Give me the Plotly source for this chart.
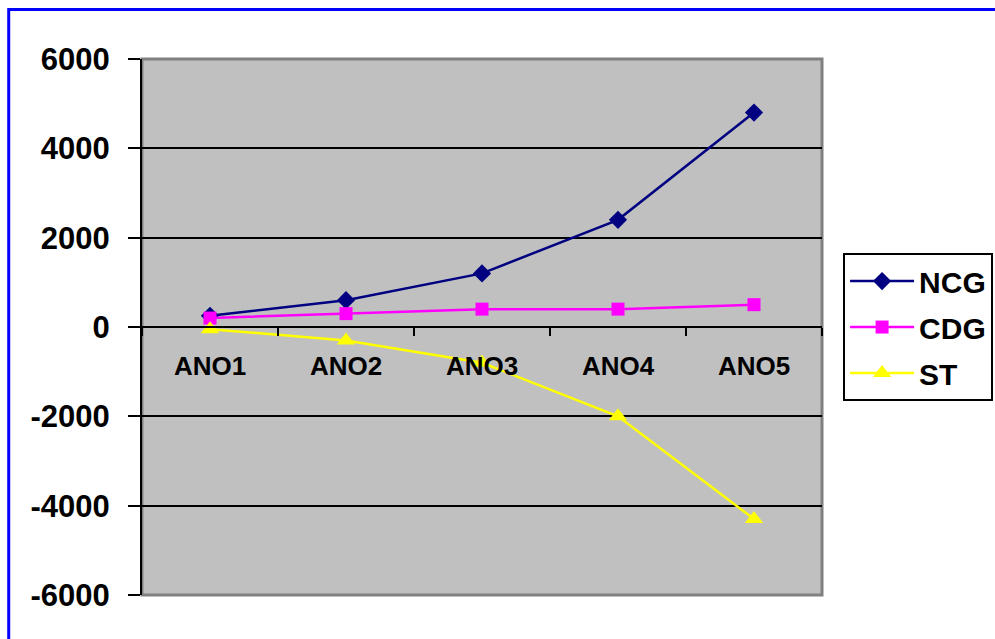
import plotly.graph_objects as go

# Yearly working-capital figures
anos = ["ANO1", "ANO2", "ANO3", "ANO4", "ANO5"]
ncg = [250, 600, 1200, 2400, 4800]
cdg = [200, 300, 400, 400, 500]
st = [-50, -300, -800, -2000, -4300]

y_ticks = [-6000, -4000, -2000, 0, 2000, 4000, 6000]
y_labels = ["-6000", "-4000", "-2000", "0", "2000", "4000", "6000"]

FONT = "Liberation Sans, Arial, sans-serif"

fig = go.Figure()
series = [
    ("NCG", ncg, "#000080", "diamond", 14),
    ("CDG", cdg, "#FF00FF", "square", 13),
    ("ST", st, "#FFFF00", "triangle-up", 16),
]
for i, (name, vals, color, sym, size) in enumerate(series):
    fig.add_trace(go.Scatter(
        x=anos, y=vals, name=name, mode="lines+markers",
        line=dict(color=color, width=2.5),
        marker=dict(symbol=sym, size=size, color=color),
        legendgroup=f"g{i}",
    ))

fig.update_layout(
    width=995, height=639,
    margin=dict(l=142, r=173, t=59, b=44, autoexpand=False),
    paper_bgcolor="white",
    plot_bgcolor="#C0C0C0",
    showlegend=True,
    legend=dict(
        x=1.031, y=0.638, xanchor="left", yanchor="top",
        bgcolor="white", bordercolor="black", borderwidth=2,
        font=dict(family=FONT, size=30, color="black", weight="bold"),
        tracegroupgap=4, itemwidth=64,
    ),
    xaxis=dict(
        type="category", anchor="free", position=0.5,
        range=[-0.5, 4.5],
        showline=True, linecolor="black", linewidth=2,
        ticks="outside", tickson="boundaries", ticklen=8, tickwidth=2, tickcolor="black",
        ticklabelstandoff=16,
        tickfont=dict(family=FONT, size=26, color="black", weight="bold"),
        showgrid=False, zeroline=False,
    ),
    yaxis=dict(
        range=[-6000, 6000],
        tickmode="array", tickvals=y_ticks, ticktext=y_labels,
        showline=True, linecolor="black", linewidth=2,
        ticks="outside", ticklen=12, tickwidth=2, tickcolor="black",
        ticklabelstandoff=12,
        tickfont=dict(family=FONT, size=31, color="black", weight="bold"),
        showgrid=True, gridcolor="black", gridwidth=2,
        zeroline=False,
    ),
    shapes=[
        # gray frame around the plotting area
        dict(type="rect", xref="paper", yref="paper", x0=0, x1=1, y0=0, y1=1,
             line=dict(color="#808080", width=3), layer="below"),
        # blue outer frame
        dict(type="rect", xref="paper", yref="paper", x0=-0.196, x1=1.4, y0=-0.2, y1=1.0925,
             line=dict(color="#0000FF", width=3), fillcolor="rgba(0,0,0,0)", layer="above"),
    ],
)

fig.write_html("out.html")
